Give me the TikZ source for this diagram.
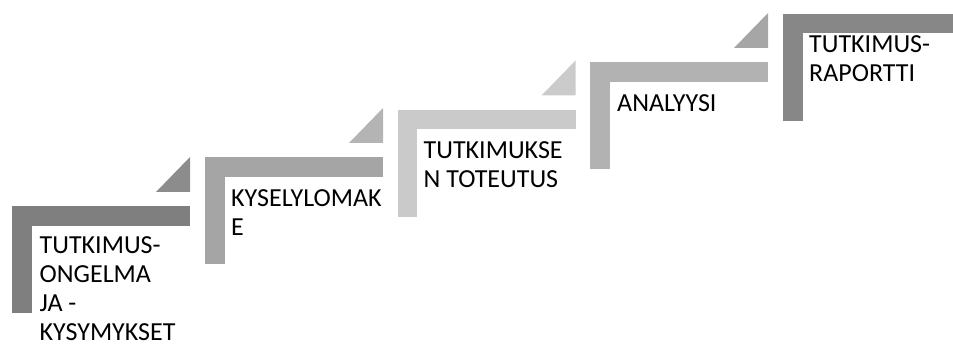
\documentclass[tikz,border=0pt]{standalone}
\usepackage{fontspec}
\setmainfont{Carlito}
\definecolor{stepA}{HTML}{7F7F7F}
\definecolor{stepB}{HTML}{A5A5A5}
\definecolor{stepC}{HTML}{CACACA}
\definecolor{stepD}{HTML}{B2B2B2}
\definecolor{stepE}{HTML}{878787}
\definecolor{triA}{HTML}{8C8C8C}
\definecolor{triB}{HTML}{B4B4B4}
\definecolor{triC}{HTML}{CBCBCB}
\definecolor{triD}{HTML}{A6A6A6}
% one L-shaped stair step: #1 = left x, #2 = top y, #3 = colour
\newcommand\stairstep[3]{%
  \fill[#3] (#1,#2) rectangle ++(178,19.5);
  \fill[#3] (#1,#2) rectangle ++(19.5,107);
}
% small corner triangle to the upper right of a step
\newcommand\stairtri[3]{%
  \fill[#3] (#1+144,#2-14.5) -- (#1+178,#2-14.5) -- (#1+178,#2-49.5) -- cycle;
}
% label lines, baseline of the node on the first line
\newcommand\steptext[1]{\begin{tabular}[t]{@{}l@{}}#1\end{tabular}}
\begin{document}
\begin{tikzpicture}[x=1pt,y=-1pt,
  steplabel/.style={anchor=base west, inner sep=0pt,
    font=\fontsize{26}{29}\selectfont, text=black}]
\clip (0,0) rectangle (953,344);

\stairstep{12}{206.5}{stepA}
\stairstep{205}{157.5}{stepB}
\stairstep{397.5}{110}{stepC}
\stairstep{590}{62.5}{stepD}
\stairstep{783}{14}{stepE}

\stairtri{12}{206.5}{triA}
\stairtri{205}{157.5}{triB}
\stairtri{397.5}{110}{triC}
\stairtri{590}{62.5}{triD}

\node[steplabel] (s1) at (39.5,254) {\steptext{TUTKIMUS-\\ONGELMA\\JA -\\KYSYMYKSET}};
\node[steplabel] (s2) at (231,207) {\steptext{KYSELYLOMAK\\E}};
\node[steplabel] (s3) at (423.5,159) {\steptext{TUTKIMUKSE\\N TOTEUTUS}};
\node[steplabel] (s4) at (617,112) {\steptext{ANALYYSI}};
\node[steplabel] (s5) at (809,53) {\steptext{TUTKIMUS-\\RAPORTTI}};
\end{tikzpicture}
\end{document}
